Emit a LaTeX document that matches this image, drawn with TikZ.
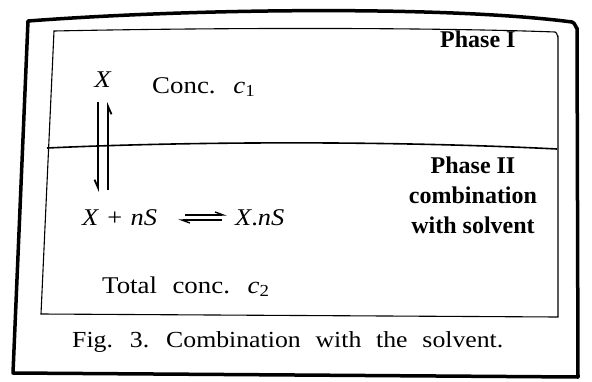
\documentclass[tikz,border=0pt]{standalone}
\usepackage{fontspec}
\setmainfont{Liberation Serif}
\newfontfamily\regf{Liberation Serif}[FakeStretch=1.12, WordSpace=1.5]
\newfontfamily\eqf{Liberation Serif}[FakeStretch=1.1, WordSpace=1.25]
\newfontfamily\capf{Liberation Serif}[FakeStretch=1.12, WordSpace=2.3]
\usetikzlibrary{arrows.meta}
\tikzset{
  lbl/.style={inner sep=0pt, font=\fontsize{24}{26}\selectfont\regf},
  eq/.style={inner sep=0pt, font=\fontsize{24}{26}\selectfont\eqf},
  bold/.style={inner sep=0pt, font=\fontsize{24}{30}\selectfont\bfseries, align=center},
  vharp/.style={line width=1.8pt, -{Straight Barb[right, length=8pt, width=7pt]}},
  hharp/.style={line width=1.4pt, -{Straight Barb[left, length=8pt, width=6pt]}},
  frame/.style={line width=3.5pt, line join=round},
  inner/.style={line width=1.1pt},
}
\begin{document}
\begin{tikzpicture}[x=1pt,y=-1pt]
\useasboundingbox (0,0) rectangle (592,381);
% outer frame
\draw[frame] (28,21) .. controls (200,8) and (450,6) .. (572,22)
  to[out=0,in=-90] (577,28) -- (578,377) -- (13,373) -- cycle;
% inner box
\draw[inner] (54,31) .. controls (250,27) and (450,28) .. (555,32)
  to[out=0,in=-90] (558,37) -- (558,317) -- (41,314) -- cycle;
% divider
\draw[line width=1.6pt] (47,148) .. controls (200,141) and (400,141) .. (557,149);
% texts
\node[bold, anchor=base west] (p1) at (440,47) {Phase I};
\node[lbl, anchor=base] (x1) at (103,87) {\textit{X}};
\node[lbl, anchor=base west] (c1) at (152,93) {Conc. \textit{c}\textsubscript{1}};
\node[eq, anchor=base west] (lhs) at (82,225) {\textit{X} + \textit{nS}};
\node[eq, anchor=base west] (rhs) at (235,225) {\textit{X}.\textit{nS}};
\node[bold, anchor=base] (p2) at (473,233) {Phase II\\combination\\with solvent};
\node[lbl, anchor=base west] (tot) at (102,293) {Total conc. \textit{c}\textsubscript{2}};
\node[lbl, anchor=base west, font=\fontsize{23}{25}\selectfont\capf] (cap) at (72,347) {Fig. 3. Combination with the solvent.};
% vertical equilibrium arrows
\coordinate (vt) at ([shift={(0,15)}]x1.base);
\coordinate (vb) at ([shift={(0,105)}]x1.base);
\draw[vharp] ([shift={(-5,0)}]vt) -- ([shift={(-5,0)}]vb);
\draw[vharp] ([shift={(5,-2)}]vb) -- ([shift={(5,0)}]vt);
% horizontal equilibrium arrows
\draw[hharp] ([shift={(-50,-10)}]rhs.base west) -- ([shift={(-8,-10)}]rhs.base west);
\draw[hharp] ([shift={(-13,-5)}]rhs.base west) -- ([shift={(-57,-5)}]rhs.base west);
\end{tikzpicture}
\end{document}
